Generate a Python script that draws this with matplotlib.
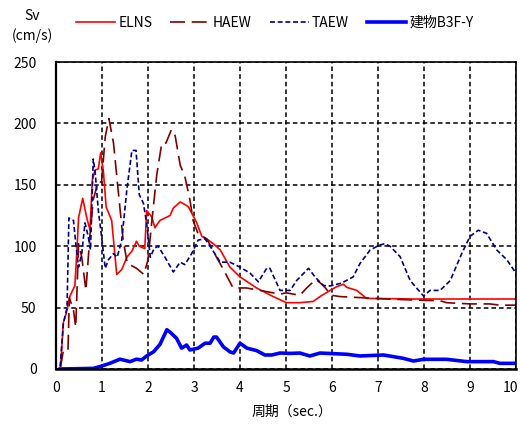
import matplotlib
matplotlib.use('Agg')
import matplotlib.pyplot as plt
import matplotlib.transforms as mtransforms

plt.rcParams['font.family'] = ['Noto Sans CJK JP', 'DejaVu Sans']

# velocity response spectra, Sv (cm/s) vs period (sec.)
elns_t = [0.1, 0.16, 0.22, 0.3, 0.41, 0.46, 0.49, 0.58, 0.67, 0.74, 0.79, 0.85, 0.92, 0.97, 1.03, 1.09,
          1.21, 1.32, 1.43, 1.54, 1.65, 1.75, 1.81, 1.93, 1.97, 2.08, 2.15, 2.26, 2.48, 2.55, 2.7, 2.8,
          2.88, 2.95, 3.06, 3.17, 3.31, 3.42, 3.57, 3.78, 4.0, 4.36, 4.72, 5.01, 5.3, 5.59, 5.74, 5.96,
          6.1, 6.25, 6.32, 6.54, 6.75, 7.77, 10.0]
elns_v = [2, 38, 45, 59, 68, 100, 123, 139, 123, 113, 154, 162, 163, 176, 161, 132,
          121, 77, 81, 91, 96, 104, 100, 98, 129, 124, 115, 121, 125, 131, 136, 134,
          132, 127, 119, 108, 105, 102, 97, 83, 75, 66, 59, 54, 54, 55, 59, 64,
          67, 69, 66.5, 64, 57.5, 57, 57]

haew_t = [0.1, 0.16, 0.26, 0.29, 0.38, 0.43, 0.49, 0.56, 0.65, 0.74, 0.81, 0.92, 0.99, 1.07, 1.15, 1.25,
          1.35, 1.46, 1.55, 1.75, 1.91, 2.0, 2.08, 2.19, 2.3, 2.39, 2.51, 2.59, 2.7, 2.8, 2.91, 2.98,
          3.09, 3.28, 3.49, 3.64, 3.85, 4.14, 4.58, 4.87, 5.01, 5.3, 5.45, 5.65, 5.81, 5.99, 6.17, 6.68,
          7.19, 7.91, 8.35, 8.49, 9.0, 9.43, 9.65, 10.0]
haew_v = [2, 15, 15, 58, 48, 34, 102, 91, 64, 110, 138, 153, 152, 189, 204, 184,
          146, 105, 86, 82, 77, 89, 119, 158, 184, 184, 195, 190, 166, 157, 138, 121,
          110, 106, 91, 81, 66, 66, 63, 61, 62, 60, 66, 73, 68, 60, 59, 58,
          57, 56, 55.6, 54, 53, 53, 52, 52]

taew_t = [0.09, 0.16, 0.24, 0.28, 0.32, 0.38, 0.43, 0.49, 0.56, 0.63, 0.7, 0.75, 0.81, 0.85, 0.92, 0.99,
          1.07, 1.14, 1.25, 1.33, 1.43, 1.54, 1.65, 1.74, 1.81, 1.9, 1.97, 2.05, 2.13, 2.22, 2.37, 2.55,
          2.7, 2.8, 2.95, 3.09, 3.24, 3.35, 3.57, 3.78, 4.0, 4.22, 4.4, 4.58, 4.65, 4.87, 5.09, 5.23,
          5.49, 5.63, 5.81, 5.96, 6.21, 6.46, 6.61, 6.83, 7.04, 7.15, 7.26, 7.48, 7.7, 7.99, 8.13, 8.35,
          8.57, 8.82, 9.0, 9.18, 9.36, 9.58, 9.8, 10.0]
taew_v = [2, 37, 50, 123, 122, 121, 102, 83, 94, 119, 108, 97, 171, 161, 129, 108,
          82, 89, 94, 91, 105, 146, 178, 178, 142, 135, 119, 91, 98, 100, 91, 79,
          87, 85, 94, 105, 106, 100, 87, 87, 83, 78, 71, 82, 82, 64, 64, 72,
          82, 75, 68, 67.6, 70, 75, 86, 97, 101, 102, 100, 91.5, 72, 59.4, 64, 64,
          72, 94, 108, 113, 110.5, 97, 89, 78]

b3f_t = [0.09, 0.5, 0.81, 0.96, 1.17, 1.39, 1.61, 1.75, 1.86, 1.97, 2.12, 2.26, 2.41, 2.48, 2.62, 2.73,
         2.84, 2.91, 3.09, 3.24, 3.35, 3.43, 3.49, 3.64, 3.78, 3.86, 4.0, 4.15, 4.36, 4.54, 4.69, 4.87,
         5.09, 5.3, 5.52, 5.74, 6.32, 6.61, 7.12, 7.55, 7.77, 7.99, 8.49, 8.93, 9.51, 9.65, 10.0]
b3f_v = [0, 0.3, 0.5, 2, 4.6, 8, 6, 8, 7.3, 10.6, 14, 20, 32, 30, 25, 17,
         19.5, 15.5, 17, 21, 21, 26, 26, 18, 14, 13, 21, 17, 15, 11.4, 11.4, 13,
         12.7, 13, 10.6, 13, 12, 10.6, 11.4, 8.7, 6.5, 7.9, 7.9, 6, 6, 4.6, 4.6]

fig = plt.figure(figsize=(5.2, 4.3), dpi=100)
ax = fig.add_axes([56 / 520, 61 / 430, 460 / 520, 307 / 430])

ax.plot(elns_t, elns_v, color='#FF0000', lw=1.2, label='ELNS')
ax.plot(haew_t, haew_v, color='#800000', lw=1.2, dashes=(9, 4), label='HAEW')
ax.plot(taew_t, taew_v, color='#00008B', lw=1.2, dashes=(3, 1.6), label='TAEW')
ax.plot(b3f_t, b3f_v, color='#0000FF', lw=2.6, label='建物B3F-Y')

ax.set_xlim(0, 10)
ax.set_ylim(0, 250)
ax.set_xticks(range(0, 11))
ax.set_yticks(range(0, 251, 50))
ax.grid(True, color='black', lw=1.1, linestyle=(0, (3, 2)))
ax.tick_params(length=0, labelsize=10)
ax.tick_params(axis='y', pad=14)
ax.tick_params(axis='x', pad=9)
for side in ax.spines.values():
    side.set_linewidth(1.2)
ax.spines['left'].set_linewidth(1.6)
ax.spines['bottom'].set_linewidth(1.8)

# keep the "10" label inside the figure
last = ax.get_xticklabels()[-1]
last.set_transform(last.get_transform() + mtransforms.ScaledTranslation(-5 / 100, 0, fig.dpi_scale_trans))

ax.set_xlabel('周期（sec.）', fontsize=10)
ax.xaxis.set_label_coords(0.512, -0.14)
ax.xaxis.label.set_va('center')

fig.text(32 / 520, 1 - 16 / 430, 'Sv', ha='center', va='center', fontsize=10)
fig.text(32 / 520, 1 - 36 / 430, '(cm/s)', ha='center', va='center', fontsize=10)

fig.legend(loc='center left', bbox_to_anchor=(76 / 520, 1 - 23 / 430), ncol=4, frameon=False,
           fontsize=10, handlelength=2.8, handletextpad=0.25, columnspacing=1.3,
           borderpad=0, borderaxespad=0)

fig.savefig('out.png', dpi=100)
